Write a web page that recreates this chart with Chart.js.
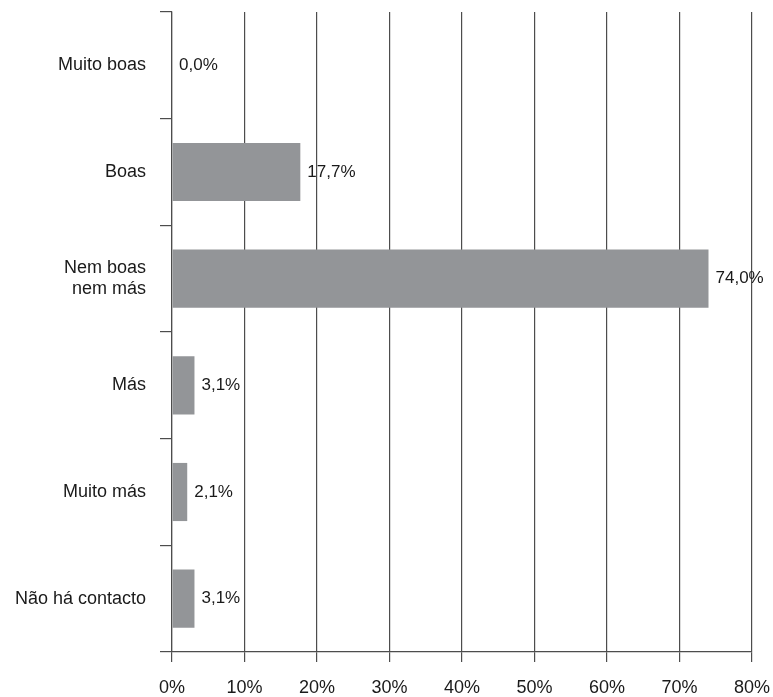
<!DOCTYPE html>
<html><head><meta charset="utf-8">
<script src="https://cdn.jsdelivr.net/npm/chart.js@4/dist/chart.umd.min.js"></script>
<style>html,body{margin:0;padding:0;background:#fff}#w{width:773px;height:697px}</style>
</head><body><div id="w"><canvas id="c" width="773" height="697"></canvas></div>
<script>
const categories = ["Muito boas", "Boas", ["Nem boas", "nem más"], "Más", "Muito más", "Não há contacto"];
const values = [0.0, 17.7, 74.0, 3.1, 2.1, 3.1];
const valueLabels = ["0,0%", "17,7%", "74,0%", "3,1%", "2,1%", "3,1%"];
const xTicks = [0, 10, 20, 30, 40, 50, 60, 70, 80];

const FONT = "'Liberation Sans Narrow', 'Arial Narrow', 'Liberation Sans', sans-serif";
const TXT = '#1a1a1a';

const labelPlugin = {
  id: 'valueLabels',
  afterDatasetsDraw(chart) {
    const ctx = chart.ctx;
    const meta = chart.getDatasetMeta(0);
    ctx.save();
    ctx.font = '17px ' + FONT;
    ctx.fillStyle = TXT;
    ctx.textBaseline = 'middle';
    ctx.textAlign = 'left';
    meta.data.forEach((bar, i) => {
      ctx.fillText(valueLabels[i], bar.x + 7, bar.y);
    });
    ctx.restore();
  }
};

new Chart(document.getElementById('c'), {
  type: 'bar',
  data: {
    labels: categories,
    datasets: [{
      data: values,
      backgroundColor: '#939598',
      borderWidth: 0,
      categoryPercentage: 1,
      barPercentage: 0.545
    }]
  },
  options: {
    indexAxis: 'y',
    responsive: false,
    animation: false,
    devicePixelRatio: 1,
    layout: { padding: { top: 12, right: 21, left: 0, bottom: 0 } },
    plugins: { legend: { display: false }, tooltip: { enabled: false } },
    scales: {
      x: {
        min: 0, max: 80,
        afterBuildTicks(s) { s.ticks = xTicks.map(v => ({ value: v })); },
        afterFit(s) { s.height = 45; s.paddingLeft = 0; s.paddingRight = 0; },
        ticks: {
          callback: v => v + '%',
          font: { family: FONT, size: 18 },
          color: TXT,
          padding: 15,
          maxRotation: 0
        },
        grid: { color: '#4d4d4d', lineWidth: 1.2, tickLength: 10, drawOnChartArea: true },
        border: { color: '#4d4d4d', width: 1.2 }
      },
      y: {
        afterFit(s) { s.width = 172; s.paddingTop = 0; s.paddingBottom = 0; },
        ticks: {
          font: { family: FONT, size: 18 },
          color: TXT,
          padding: 14
        },
        grid: { offset: true, drawOnChartArea: false, color: '#4d4d4d', lineWidth: 1.2, tickLength: 12 },
        border: { color: '#4d4d4d', width: 1.2 }
      }
    }
  },
  plugins: [labelPlugin]
});
</script></body></html>
